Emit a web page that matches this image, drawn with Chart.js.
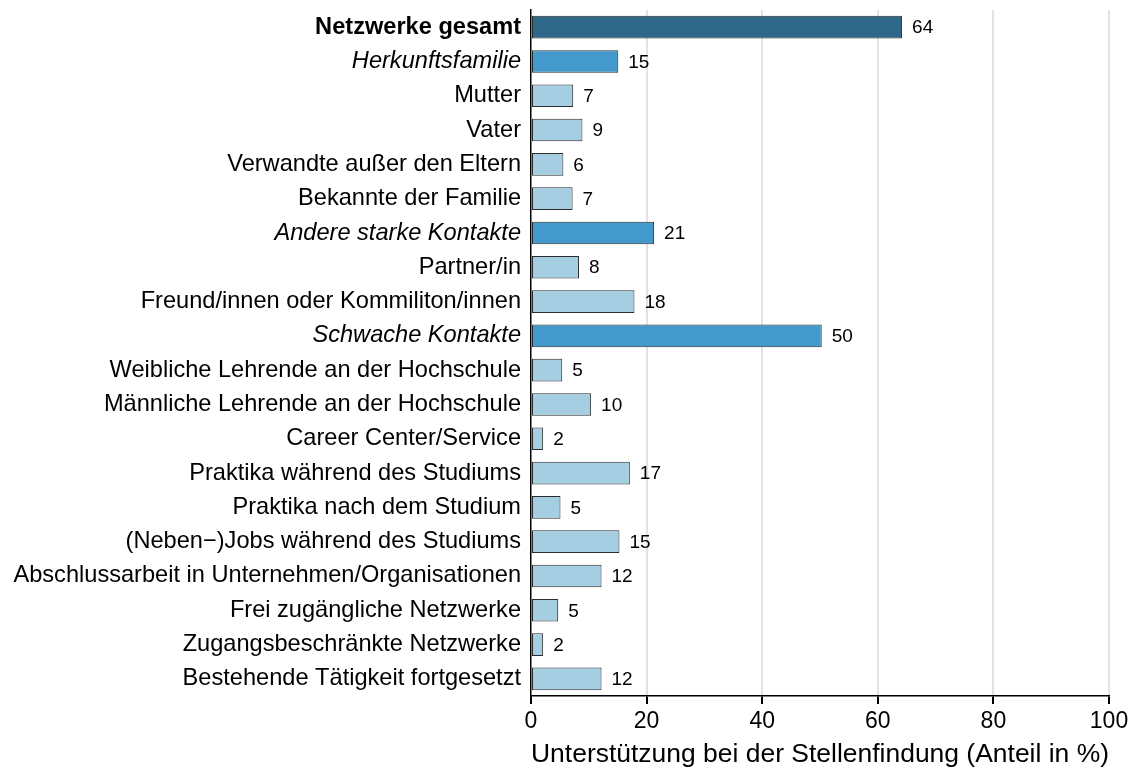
<!DOCTYPE html>
<html>
<head>
<meta charset="utf-8">
<script src="https://cdn.jsdelivr.net/npm/chart.js@4/dist/chart.umd.min.js"></script>
<style>
  html, body { margin: 0; padding: 0; background: #fff; }
  #wrap { width: 1133px; height: 769px; }
</style>
</head>
<body>
<div id="wrap"><canvas id="chart"></canvas></div>
<script>
// categories and values
const labels = [
  'Netzwerke gesamt',
  'Herkunftsfamilie',
  'Mutter',
  'Vater',
  'Verwandte außer den Eltern',
  'Bekannte der Familie',
  'Andere starke Kontakte',
  'Partner/in',
  'Freund/innen oder Kommiliton/innen',
  'Schwache Kontakte',
  'Weibliche Lehrende an der Hochschule',
  'Männliche Lehrende an der Hochschule',
  'Career Center/Service',
  'Praktika während des Studiums',
  'Praktika nach dem Studium',
  '(Neben\u2212)Jobs während des Studiums',
  'Abschlussarbeit in Unternehmen/Organisationen',
  'Frei zugängliche Netzwerke',
  'Zugangsbeschränkte Netzwerke',
  'Bestehende Tätigkeit fortgesetzt'
]
const values = [64.2, 15.1, 7.3, 8.9, 5.6, 7.2, 21.3, 8.3, 17.9, 50.3, 5.4, 10.4, 2.1, 17.1, 5.1, 15.3, 12.2, 4.7, 2.1, 12.2]
// 0 = total, 1 = group, 2 = item
const level = [0, 1, 2, 2, 2, 2, 1, 2, 2, 1, 2, 2, 2, 2, 2, 2, 2, 2, 2, 2]
const xTicks = [0, 20, 40, 60, 80, 100]

const levelColors = ['#2e6787', '#4499cc', '#a6cee3']
const fontFamily = '"Liberation Sans", Arial, sans-serif'

// value labels next to each bar
const valueLabels = {
  id: 'valueLabels',
  afterDatasetsDraw(chart) {
    const ctx = chart.ctx
    const meta = chart.getDatasetMeta(0)
    ctx.save()
    ctx.font = '19px ' + fontFamily
    ctx.fillStyle = '#000'
    ctx.textAlign = 'left'
    ctx.textBaseline = 'middle'
    meta.data.forEach((bar, i) => {
      ctx.fillText(Math.round(values[i]), bar.x + 10, bar.y + 1)
    })
    ctx.restore()
  }
}

new Chart(document.getElementById('chart'), {
  type: 'bar',
  data: {
    labels: labels,
    datasets: [{
      data: values,
      backgroundColor: level.map(l => levelColors[l]),
      borderColor: '#2b2b2b',
      borderWidth: 1,
      borderSkipped: false,
      categoryPercentage: 1,
      barPercentage: 0.66
    }]
  },
  options: {
    indexAxis: 'y',
    responsive: true,
    maintainAspectRatio: false,
    animation: false,
    layout: { padding: { top: 10, right: 24, left: 0, bottom: 0 } },
    plugins: {
      legend: { display: false },
      tooltip: { enabled: false }
    },
    scales: {
      x: {
        min: 0,
        max: 100,
        afterBuildTicks: (scale) => { scale.ticks = xTicks.map(v => ({ value: v })) },
        grid: {
          color: (c) => c.tick && c.tick.value === 0 ? 'rgba(0,0,0,0)' : '#e3e3e3',
          lineWidth: 2,
          tickColor: '#000',
          tickLength: 8,
          drawTicks: true
        },
        border: { display: true, color: '#000', width: 1.5 },
        ticks: {
          color: '#000',
          font: { family: fontFamily, size: 23 },
          padding: 4,
          maxRotation: 0
        },
        title: {
          display: true,
          text: 'Unterstützung bei der Stellenfindung (Anteil in %)',
          color: '#000',
          font: { family: fontFamily, size: 26.7, lineHeight: 1.1 },
          padding: { top: 0, bottom: 0 }
        }
      },
      y: {
        afterFit: (scale) => {
          scale.width = 531
          scale.paddingTop = 0
          scale.paddingBottom = 0
        },
        grid: { display: false, drawTicks: false },
        border: { display: true, color: '#000', width: 1.5 },
        ticks: {
          color: '#000',
          padding: 10,
          autoSkip: false,
          font: (c) => {
            const l = level[c.index]
            return {
              family: fontFamily,
              size: 23.6,
              weight: l === 0 ? 'bold' : 'normal',
              style: l === 1 ? 'italic' : 'normal'
            }
          }
        }
      }
    }
  },
  plugins: [valueLabels]
})
</script>
</body>
</html>
